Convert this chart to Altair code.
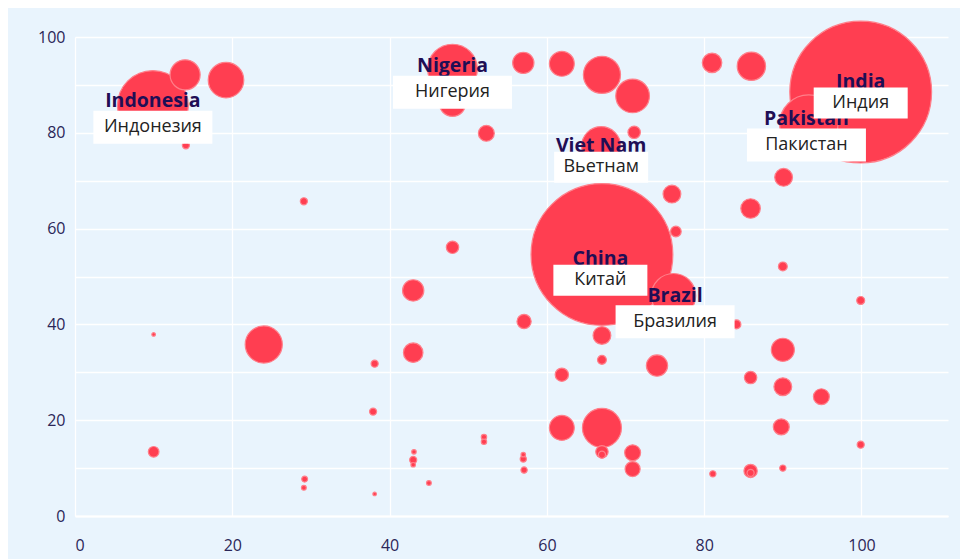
import altair as alt
import pandas as pd

# ---- bubble data ----
bx = [9.9, 14.0, 19.2, 14.1, 48.0, 48.0, 52.3, 57.0, 61.9, 67.0, 70.9, 71.1, 66.9, 81.0, 86.0,
      99.9, 93.3, 90.1, 85.9, 75.9, 76.4, 90.0, 99.9, 67.0, 76.1, 84.1, 29.1, 48.0, 43.0, 10.0,
      24.0, 57.1, 67.0, 67.0, 61.9, 74.0, 43.0, 38.1, 90.0, 85.9, 90.0, 94.9, 37.9, 10.0, 89.8,
      61.9, 67.0, 67.0, 70.9, 70.9, 81.1, 85.9, 90.0, 99.9, 52.0, 52.0, 57.0, 57.0, 57.1, 43.1,
      43.0, 43.0, 45.0, 29.2, 29.1, 38.1, 67.0, 85.9]
by = [85.6, 92.1, 91.0, 77.4, 93.3, 86.2, 79.9, 94.6, 94.4, 92.1, 87.7, 80.1, 77.2, 94.6, 93.9,
      88.5, 81.8, 70.7, 64.2, 67.2, 59.4, 52.1, 45.0, 54.6, 46.0, 40.0, 65.7, 56.1, 47.1, 37.9,
      35.8, 40.6, 37.7, 32.6, 29.5, 31.4, 34.1, 31.8, 34.7, 28.9, 27.0, 24.9, 21.8, 13.4, 18.6,
      18.4, 18.4, 13.4, 13.2, 9.8, 8.8, 9.4, 10.0, 14.9, 16.5, 15.5, 12.8, 11.9, 9.6, 13.4,
      11.7, 10.7, 6.9, 7.7, 5.9, 4.6, 12.8, 9.0]
bpop = [350, 63, 88, 3.5, 172, 49, 17.7, 31.5, 43, 96, 79, 10.7, 106, 26.5, 56,
        1400, 238, 22, 26.5, 22, 7.9, 5.5, 4.4, 1400, 137, 5.5, 3.5, 10.7, 31.5, 0.9,
        96, 14, 22, 5.5, 12.3, 31.5, 26.5, 3.5, 37, 10.7, 22, 17.7, 3.5, 7.9, 17.7,
        43, 106, 10.7, 17.7, 15.8, 2.7, 12.3, 2.7, 3.5, 2.0, 2.0, 1.4, 2.7, 2.7, 1.4,
        3.5, 1.4, 1.6, 2.4, 1.6, 0.9, 3.5, 3.5]

# ---- annotations ----
lbl_en = ["Indonesia", "Nigeria", "Viet Nam", "China", "Brazil", "India", "Pakistan"]
lbl_ru = ["Индонезия", "Нигерия", "Вьетнам", "Китай", "Бразилия", "Индия", "Пакистан"]
lbl_x = [9.9, 48.0, 66.9, 66.8, 76.3, 99.9, 93.0]
lbl_y = [86.6, 93.9, 77.2, 53.6, 46.0, 90.6, 82.9]
lbl_box = ["wide", "wide", "narrow", "narrow", "wide", "narrow", "wide"]

x_ticks = [0, 20, 40, 60, 80, 100]
y_ticks = list(range(0, 101, 10))

df = pd.DataFrame({"x": bx, "y": by, "pop": bpop})
lab = pd.DataFrame({"x": lbl_x, "y": lbl_y, "en": lbl_en, "ru": lbl_ru, "box": lbl_box})

RED = "#ff3e51"
EDGE = "#ff7f8a"
BG = "#e9f4fd"
AXC = "#2b2658"

xs = alt.Scale(domain=[0, 111], nice=False, zero=False)
ys = alt.Scale(domain=[0, 100], nice=False, zero=False)

xenc = alt.X("x:Q", scale=xs, axis=alt.Axis(
    values=x_ticks, title=None, grid=True, gridColor="white", gridWidth=1.3,
    domain=True, domainColor="white", domainWidth=2, ticks=False,
    labelPadding=21, labelFontSize=16, labelColor=AXC, labelFont="Open Sans"))
yenc = alt.Y("y:Q", scale=ys, axis=alt.Axis(
    values=y_ticks, title=None, grid=True, gridColor="white", gridWidth=1.3,
    domain=False, ticks=False, labelPadding=10, labelFontSize=16,
    labelColor=AXC, labelFont="Open Sans",
    labelExpr="datum.value % 20 == 0 ? datum.label : ''"))

bubbles = alt.Chart(df).mark_circle(
    color=RED, opacity=1, stroke=EDGE, strokeWidth=1.2
).encode(
    x=xenc, y=yenc,
    size=alt.Size("pop:Q", scale=alt.Scale(domain=[0, 1400], range=[0, 20106]), legend=None),
    order=alt.Order("pop:Q", sort="descending"),
)

pos = dict(x=alt.X("x:Q", scale=xs), y=alt.Y("y:Q", scale=ys))

bold = alt.Chart(lab).mark_text(
    font="Open Sans", fontWeight="bold", fontSize=19.5, color="#1f0e55"
).encode(text="en:N", **pos)

wide = alt.Chart(lab).transform_filter("datum.box == 'wide'")
narrow = alt.Chart(lab).transform_filter("datum.box == 'narrow'")

box_w = wide.mark_rect(width=119, height=33, color="white", yOffset=26).encode(**pos)
box_n = narrow.mark_rect(width=94, height=31, color="white", yOffset=21).encode(**pos)

ru_w = wide.mark_text(font="Open Sans", fontSize=18, color="#222222", yOffset=26).encode(text="ru:N", **pos)
ru_n = narrow.mark_text(font="Open Sans", fontSize=18, color="#222222", yOffset=21).encode(text="ru:N", **pos)

chart = alt.layer(bubbles, bold, box_w, box_n, ru_w, ru_n).properties(
    width=873, height=479,
    autosize=alt.AutoSizeParams(type="none"),
    padding={"left": 67, "top": 29, "right": 12, "bottom": 50},
    background=BG,
).configure_view(stroke=None, fill=BG)

chart.save("out.html", embed_options={"renderer": "svg", "actions": False})
